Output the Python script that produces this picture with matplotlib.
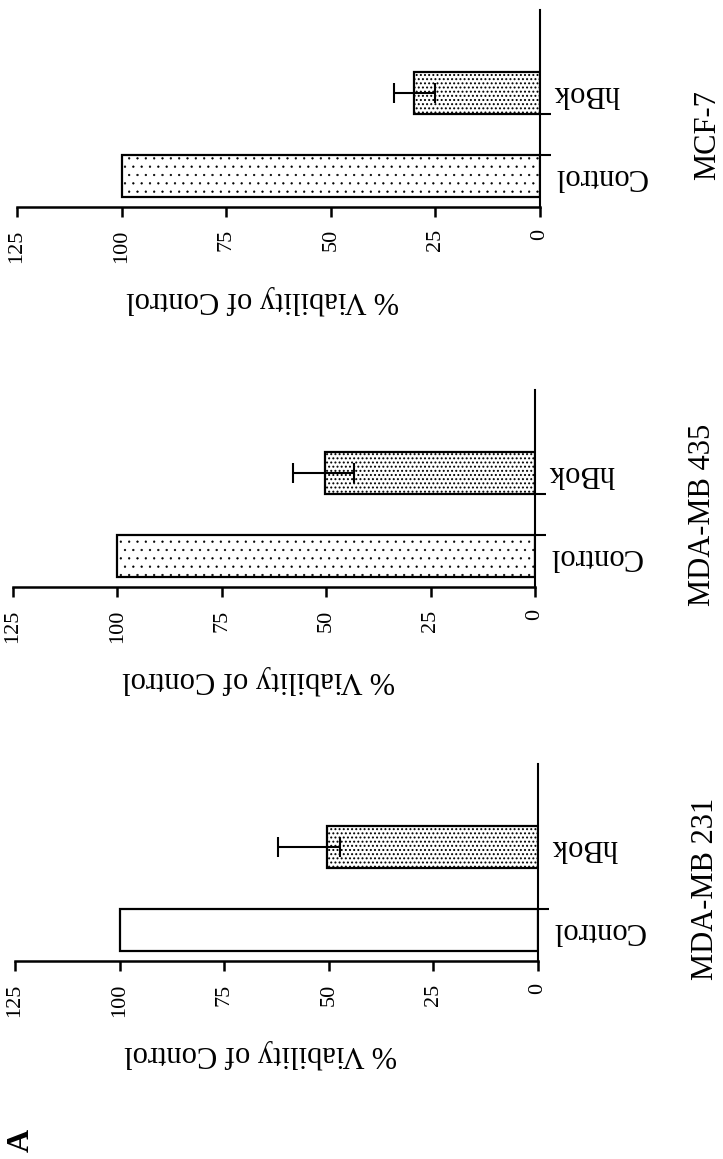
import matplotlib
matplotlib.use("Agg")
import matplotlib.pyplot as plt
from matplotlib.transforms import blended_transform_factory

plt.rcParams['font.family'] = ['Liberation Serif', 'DejaVu Serif']

# Viability data (% of control) per cell line
cell_lines = ['MDA-MB 231', 'MDA-MB 435', 'MCF-7']
groups = ['Control', 'hBok']
control_viability = [100, 100, 100]
hbok_viability = [50.4, 50.3, 30.0]
hbok_err_low = [3.1, 7.0, 5.0]
hbok_err_high = [11.7, 7.6, 5.0]
value_ticks = [0, 25, 50, 75, 100, 125]

# hatch used for the control bar in each panel (first one is plain white)
control_hatch = ['', '..', '..']
hbok_hatch = '....'

fig = plt.figure(figsize=(7.23, 11.59), dpi=100)

# panels stacked from bottom to top: [left, bottom, width, height]
panel_rects = [
    [0.0207, 0.1708, 0.7234, 0.170],
    [0.0180, 0.4935, 0.7220, 0.170],
    [0.0235, 0.8214, 0.7234, 0.170],
]
edge_ticks = [[0.25], [0.25, 0.75], [0.25, 0.75]]

for i, name in enumerate(cell_lines):
    ax = fig.add_axes(panel_rects[i])
    # lighter, finer dots for the control bar
    with plt.rc_context({'hatch.linewidth': 0.4}):
        ax.barh(0, control_viability[i], height=0.5, color='white',
                edgecolor='black', linewidth=1.6, hatch=control_hatch[i])
    with plt.rc_context({'hatch.linewidth': 0.9}):
        ax.barh(1, hbok_viability[i], height=0.5, color='white',
                edgecolor='black', linewidth=1.6, hatch=hbok_hatch)
    ax.errorbar(hbok_viability[i], 1,
                xerr=[[hbok_err_low[i]], [hbok_err_high[i]]],
                fmt='none', ecolor='black', elinewidth=1.5,
                capsize=7, capthick=1.5)

    ax.set_xlim(125, 0)
    ax.set_ylim(-0.37, 2.0)

    ax.spines['left'].set_visible(False)
    ax.spines['top'].set_visible(False)
    ax.spines['bottom'].set_linewidth(1.8)
    ax.spines['right'].set_linewidth(1.5)

    ax.set_xticks(value_ticks)
    ax.set_xticklabels([str(v) for v in value_ticks])
    ax.tick_params(axis='x', labelrotation=90, length=7, width=1.8,
                   pad=9, labelsize=16)

    ax.yaxis.tick_right()
    ax.set_yticks([0, 1])
    ax.set_yticklabels(groups, rotation=180, ha='left', va='center',
                       fontsize=22)
    ax.tick_params(axis='y', which='major', length=0, pad=10)
    ax.set_yticks(edge_ticks[i], minor=True)
    ax.tick_params(axis='y', which='minor', length=8, width=1.5,
                   direction='out')

    ax.text(0.47, -0.47, '% Viability of Control', rotation=180,
            ha='center', va='center', fontsize=22, transform=ax.transAxes)

    trans = blended_transform_factory(ax.transAxes, ax.transData)
    ax.text(1.32, 0.5, name, rotation=90, ha='center', va='center',
            fontsize=22, transform=trans)

fig.text(21 / 723, 1 - 1140 / 1159, 'A', rotation=90, ha='center',
         va='center', fontsize=23, fontweight='bold')

fig.savefig('out.png', dpi=100, facecolor='white')
